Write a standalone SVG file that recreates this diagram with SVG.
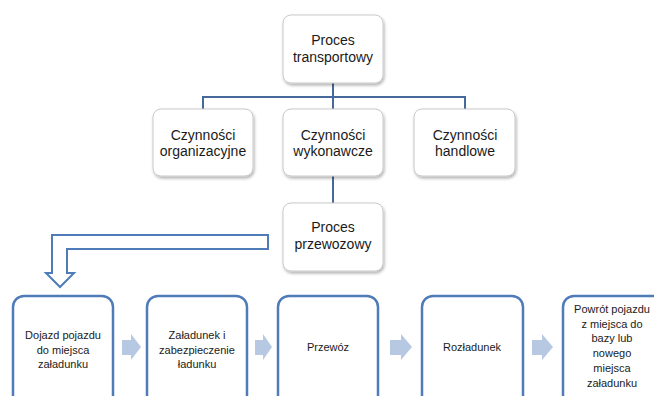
<svg xmlns="http://www.w3.org/2000/svg" width="654" height="396" viewBox="0 0 654 396">
<defs>
<filter id="sh" x="-10%" y="-10%" width="130%" height="130%">
<feDropShadow dx="1" dy="2" stdDeviation="1.5" flood-color="#000" flood-opacity="0.3"/>
</filter>
<style>
.top{fill:#fff;stroke:#c9c9c9;stroke-width:1;filter:url(#sh)}
.step{fill:#fff;stroke:#4f7cb8;stroke-width:2.5}
.t1{font-family:"Liberation Sans",Arial,sans-serif;font-size:14px;fill:#1a1a1a;text-anchor:middle}
.t2{font-family:"Liberation Sans",Arial,sans-serif;font-size:11px;fill:#1a1a1a;text-anchor:middle}
.con{fill:none;stroke:#46699b;stroke-width:2}
.chev{fill:#b7c8e3}
</style>
</defs>
<rect width="654" height="396" fill="#fff"/>
<g id="connectors">
<path class="con" d="M333,83 V97 M203,109 V97 H465 V109 M333,97 V109 M333,176 V203"/>
<path d="M268,235 H52 V273 H46 L60,287 L74,273 H67 V249 H268 Z" fill="#fff" stroke="#4f7cb8" stroke-width="2"/>
<path class="chev" d="M122,340 H131 V334 L141,347 L131,360 V355 H122 Z"/>
<path class="chev" d="M255,340 H263 V334 L272,347 L263,360 V355 H255 Z"/>
<path class="chev" d="M390,340 H401 V334 L412,347 L401,360 V355 H390 Z"/>
<path class="chev" d="M532,340 H542 V334 L553,347 L542,360 V355 H532 Z"/>
</g>
<g id="n-transportowy">
<rect class="top" x="283" y="15" width="100" height="68" rx="8"/>
<text class="t1" x="333" y="45">Proces</text>
<text class="t1" x="333" y="62">transportowy</text>
</g>
<g id="n-organizacyjne">
<rect class="top" x="153" y="109" width="100" height="67" rx="8"/>
<text class="t1" x="203" y="140">Czynności</text>
<text class="t1" x="203" y="156">organizacyjne</text>
</g>
<g id="n-wykonawcze">
<rect class="top" x="283" y="109" width="100" height="67" rx="8"/>
<text class="t1" x="333" y="140">Czynności</text>
<text class="t1" x="333" y="156">wykonawcze</text>
</g>
<g id="n-handlowe">
<rect class="top" x="414" y="109" width="101" height="67" rx="8"/>
<text class="t1" x="465" y="140">Czynności</text>
<text class="t1" x="465" y="156">handlowe</text>
</g>
<g id="n-przewozowy">
<rect class="top" x="283" y="203" width="100" height="68" rx="8"/>
<text class="t1" x="333" y="232">Proces</text>
<text class="t1" x="333" y="249">przewozowy</text>
</g>
<g id="n-dojazd">
<rect class="step" x="13" y="296" width="100" height="115" rx="11"/>
<text class="t2" x="63" y="339">Dojazd pojazdu</text>
<text class="t2" x="63" y="354">do miejsca</text>
<text class="t2" x="63" y="368">załadunku</text>
</g>
<g id="n-zaladunek">
<rect class="step" x="147" y="296" width="100" height="115" rx="11"/>
<text class="t2" x="197" y="339">Załadunek i</text>
<text class="t2" x="197" y="354">zabezpieczenie</text>
<text class="t2" x="197" y="368">ładunku</text>
</g>
<g id="n-przewoz">
<rect class="step" x="278" y="296" width="100" height="115" rx="11"/>
<text class="t2" x="328" y="351">Przewóz</text>
</g>
<g id="n-rozladunek">
<rect class="step" x="422" y="296" width="101" height="115" rx="11"/>
<text class="t2" x="472" y="351">Rozładunek</text>
</g>
<g id="n-powrot">
<rect class="step" x="563" y="296" width="110" height="115" rx="11"/>
<text class="t2" x="612" y="313">Powrót pojazdu</text>
<text class="t2" x="612" y="328">z miejsca do</text>
<text class="t2" x="612" y="342">bazy lub</text>
<text class="t2" x="612" y="357">nowego</text>
<text class="t2" x="612" y="372">miejsca</text>
<text class="t2" x="612" y="387">załadunku</text>
</g>
</svg>
